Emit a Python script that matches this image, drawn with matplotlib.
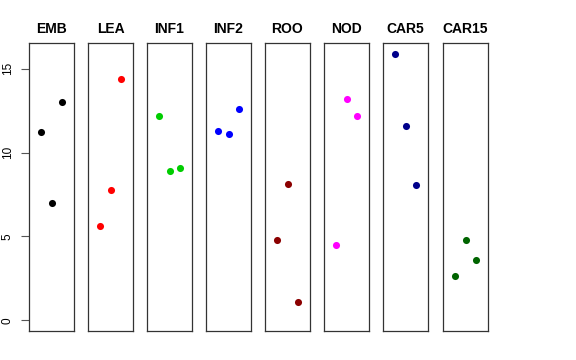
import matplotlib
matplotlib.use("Agg")
import matplotlib.pyplot as plt

plt.rcParams["font.family"] = ["Liberation Sans", "DejaVu Sans"]

groups = ["EMB", "LEA", "INF1", "INF2", "ROO", "NOD", "CAR5", "CAR15"]
colors = ["black", "#FF0000", "#00CD00", "#0000FF", "#8B0000", "#FF00FF", "#00008B", "#006400"]
reps = [1, 2, 3]
values = [
    [11.2, 7.0, 13.0],
    [5.6, 7.8, 14.4],
    [12.2, 8.9, 9.1],
    [11.3, 11.1, 12.6],
    [4.8, 8.1, 1.1],
    [4.5, 13.2, 12.2],
    [15.9, 11.6, 8.05],
    [2.65, 4.8, 3.6],
]
yticks = [0, 5, 10, 15]

W, H = 576, 360
fig = plt.figure(figsize=(W / 100, H / 100), dpi=100)

lefts = [29, 88, 147, 206, 265, 324, 383, 443]
top, bottom, pw = 43, 331, 45

ymax = max(max(v) for v in values)
pad = 0.04 * ymax

for i, (name, col, vals) in enumerate(zip(groups, colors, values)):
    ax = fig.add_axes([lefts[i] / W, (H - bottom) / H, pw / W, (bottom - top) / H])
    ax.scatter(reps, vals, s=26, color=col, zorder=3, linewidths=0)
    ax.set_xlim(0 - 0.16, 4 + 0.16)
    ax.set_ylim(0 - pad, ymax + pad)
    ax.set_xticks([])
    ax.set_title(name, fontsize=10, fontweight="bold", pad=7)
    for s in ax.spines.values():
        s.set_color("#333333")
        s.set_linewidth(0.9)
    if i == 0:
        ax.set_yticks(yticks)
        ax.set_yticklabels([str(t) for t in yticks], rotation=90, va="center", fontsize=8.5)
        ax.tick_params(axis="y", length=6, width=0.8, color="#555555", pad=5)
    else:
        ax.set_yticks([])

fig.savefig("out.png", dpi=100)
